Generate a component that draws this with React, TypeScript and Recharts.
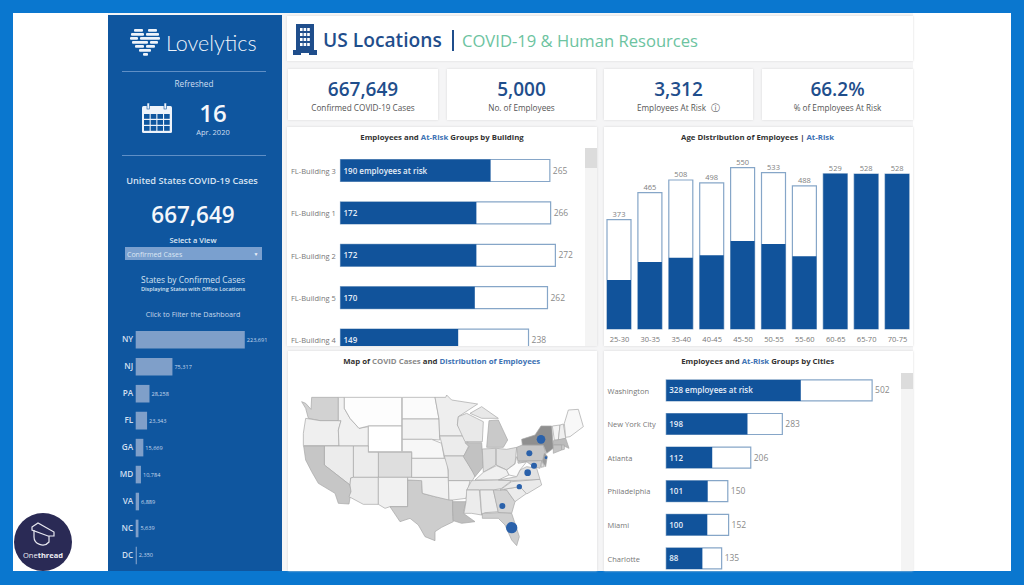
import { CSSProperties, ReactNode } from "react";
import {
  Bar,
  BarChart,
  LabelList,
  Scatter,
  ScatterChart,
  XAxis,
  YAxis,
  ZAxis,
} from "recharts";

const NAVY = "#11539b";
const HEAD = "#1f4e8c";
const OUTLINE = "#86a6c8";
const FONT = '"Open Sans", "Noto Sans", sans-serif';

// left sidebar
const stateCodes = ["NY", "NJ", "PA", "FL", "GA", "MD", "VA", "NC", "DC"];
const stateCases = [223691, 75317, 28258, 23343, 15669, 10784, 6889, 5639, 2350];

// buildings
const buildings = ["FL-Building 3", "FL-Building 1", "FL-Building 2", "FL-Building 5", "FL-Building 4"];
const buildingTotal = [265, 266, 272, 262, 238];
const buildingRisk = [190, 172, 172, 170, 149];

// age groups
const ageGroups = ["25-30", "30-35", "35-40", "40-45", "45-50", "50-55", "55-60", "60-65", "65-70", "70-75"];
const ageTotal = [373, 465, 508, 498, 550, 533, 488, 529, 528, 528];
const ageRisk = [167, 228, 243, 251, 300, 290, 248, 529, 528, 528];

// cities
const cities = ["Washington", "New York City", "Atlanta", "Philadelphia", "Miami", "Charlotte"];
const cityTotal = [502, 283, 206, 150, 152, 135];
const cityRisk = [328, 198, 112, 101, 100, 88];

// map outlines in map units (960 x 675)
const stateOutlines: Record<string, number[][]> = {
  WA: [[50,155],[62,160],[78,178],[80,142],[160,142],[160,212],[105,212],[70,205],[62,175]],
  OR: [[62,205],[105,212],[168,212],[160,240],[162,287],[55,287],[55,250]],
  ID: [[160,142],[178,142],[178,175],[195,205],[222,235],[250,230],[250,288],[162,288],[160,240],[168,212],[160,212]],
  MT: [[178,142],[350,142],[350,228],[250,228],[222,235],[195,205],[178,175]],
  WY: [[250,228],[350,228],[350,305],[250,305]],
  ND: [[352,142],[450,142],[462,207],[352,207]],
  SD: [[352,207],[462,207],[464,270],[440,268],[352,268]],
  NE: [[352,268],[440,268],[470,280],[478,325],[380,325],[380,305],[352,305]],
  CO: [[280,307],[380,307],[380,382],[280,382]],
  UT: [[205,288],[250,288],[250,307],[280,307],[280,382],[205,382]],
  NV: [[118,288],[205,288],[205,382],[197,384],[195,405],[118,345]],
  CA: [[56,288],[118,288],[118,345],[195,405],[198,425],[192,462],[160,460],[150,430],[100,400],[80,365],[62,330]],
  AZ: [[197,384],[205,382],[280,382],[280,463],[235,463],[192,440],[198,425],[195,405]],
  NM: [[280,382],[368,382],[368,470],[315,470],[300,475],[280,463]],
  TX: [[368,390],[410,390],[412,430],[450,440],[503,450],[503,500],[505,515],[470,532],[450,545],[450,572],[420,560],[400,525],[375,505],[345,515],[315,470],[368,470]],
  OK: [[368,382],[490,382],[492,450],[450,440],[412,430],[410,392],[368,390]],
  KS: [[380,325],[478,325],[488,335],[490,382],[380,382]],
  MN: [[450,142],[482,142],[485,135],[500,150],[578,162],[520,200],[517,225],[540,258],[464,258],[462,207]],
  IA: [[464,258],[540,258],[552,285],[537,318],[478,318],[470,280]],
  MO: [[478,318],[537,318],[560,360],[572,375],[562,392],[490,392],[490,360]],
  AR: [[490,392],[555,392],[543,445],[503,450],[492,450]],
  LA: [[503,455],[543,455],[535,490],[570,515],[530,520],[505,512],[503,480]],
  WI: [[520,200],[545,190],[575,205],[595,215],[592,275],[540,275],[517,225]],
  IL: [[540,278],[590,278],[595,350],[570,380],[560,360],[535,320],[552,290]],
  IN: [[592,297],[632,295],[632,345],[595,367]],
  MIU: [[555,190],[590,170],[640,205],[590,205]],
  MI: [[612,212],[640,210],[668,270],[655,292],[605,292]],
  OH: [[634,295],[665,298],[695,292],[690,340],[665,360],[634,345]],
  KY: [[570,390],[595,367],[634,347],[665,360],[672,375],[640,390]],
  TN: [[560,392],[640,390],[680,392],[650,415],[625,420],[545,420]],
  MS: [[545,420],[583,420],[590,495],[560,490],[537,490],[543,455]],
  AL: [[585,420],[625,420],[640,485],[600,488],[590,495]],
  GA: [[625,420],[665,420],[690,455],[680,490],[640,488]],
  FL: [[592,490],[640,488],[680,490],[703,560],[695,587],[680,570],[660,525],[640,505],[592,505]],
  SC: [[655,418],[705,410],[725,430],[690,455],[665,420]],
  NC: [[645,420],[680,395],[765,388],[770,405],[725,432],[705,410],[655,418]],
  VA: [[640,390],[695,380],[705,360],[725,350],[755,355],[765,388],[680,392]],
  WV: [[672,375],[665,360],[690,342],[695,320],[705,338],[725,335],[705,360],[695,380]],
  PA: [[695,292],[712,285],[775,285],[782,310],[775,332],[698,332]],
  NY: [[712,285],[710,268],[750,255],[768,228],[800,228],[805,295],[785,310],[775,285]],
  NJ: [[778,310],[787,318],[782,350],[772,335]],
  MD: [[698,335],[770,332],[765,355],[745,350],[725,335],[700,340]],
  DE: [[770,332],[778,350],[768,352]],
  VT: [[802,228],[825,225],[820,270],[808,270]],
  NH: [[825,225],[835,222],[842,265],[820,270]],
  ME: [[838,220],[850,180],[880,178],[895,230],[855,260],[842,262]],
  MA: [[805,272],[842,265],[852,295],[830,285],[805,285]],
  CT: [[805,285],[830,285],[830,300],[805,310]],
  RI: [[830,285],[838,285],[838,298],[830,300]],
};

const stateShades: Record<string, string> = {
  WA: "#d2d2d2", OR: "#efefef", ID: "#f1f1f1", MT: "#fdfdfd", WY: "#ffffff", ND: "#fbfbfb", SD: "#f2f2f2",
  NE: "#f7f7f7", CO: "#dedede", UT: "#ececec", NV: "#ececec", CA: "#c6c6c6", AZ: "#ececec", NM: "#f1f1f1",
  TX: "#cdcdcd", OK: "#f1f1f1", KS: "#f2f2f2", MN: "#eeeeee", IA: "#ececec", MO: "#e6e6e6", AR: "#f3f3f3",
  LA: "#bebebe", WI: "#e9e9e9", IL: "#c2c2c2", IN: "#dedede", MIU: "#e8e8e8", MI: "#c9c9c9", OH: "#e0e0e0",
  KY: "#f0f0f0", TN: "#e6e6e6", MS: "#ececec", AL: "#ececec", GA: "#d4d4d4", FL: "#cfcfcf", SC: "#ececec",
  NC: "#eaeaea", VA: "#e2e2e2", WV: "#fbfbfb", PA: "#c6c6c6", NY: "#8f8f8f", NJ: "#9c9c9c", MD: "#d0d0d0",
  DE: "#dcdcdc", VT: "#f4f4f4", NH: "#efefef", ME: "#f8f8f8", MA: "#bcbcbc", CT: "#c4c4c4", RI: "#cccccc",
};

// employee bubbles
const bubbleX = [768, 733, 747, 728, 703, 652, 680, 783];
const bubbleY = [268, 310, 347, 368, 410, 468, 533, 323];
const bubbleSize = [169, 81, 81, 100, 64, 81, 289, 16];

const stateRows = stateCodes.map((name, i) => ({ name, cases: stateCases[i] }));
const buildingRows = buildings.map((name, i) => ({
  name,
  total: buildingTotal[i],
  risk: buildingRisk[i],
  riskText: i === 0 ? `${buildingRisk[i]} employees at risk` : String(buildingRisk[i]),
}));
const ageRows = ageGroups.map((name, i) => ({ name, total: ageTotal[i], risk: ageRisk[i] }));
const cityRows = cities.map((name, i) => ({
  name,
  total: cityTotal[i],
  risk: cityRisk[i],
  riskText: i === 0 ? `${cityRisk[i]} employees at risk` : String(cityRisk[i]),
}));
const bubbles = bubbleX.map((x, i) => ({ x, y: bubbleY[i], z: bubbleSize[i] }));

function Txt({ x, y, size, color, weight, left, children, style }: {
  x: number; y: number; size: number; color: string; weight?: number; left?: boolean; children: ReactNode; style?: CSSProperties;
}) {
  return (
    <div
      style={{
        position: "absolute",
        left: x,
        top: y,
        fontSize: size,
        color,
        fontWeight: weight ?? 400,
        whiteSpace: "nowrap",
        lineHeight: 1,
        transform: left ? "translateY(-50%)" : "translate(-50%,-50%)",
        ...style,
      }}
    >
      {children}
    </div>
  );
}

function Panel({ x, y, w, h, children }: { x: number; y: number; w: number; h: number; children?: ReactNode }) {
  return (
    <div
      style={{
        position: "absolute",
        left: x,
        top: y,
        width: w,
        height: h,
        background: "#fff",
        boxShadow: "0 0 2px #d6d6d6",
        overflow: "hidden",
      }}
    >
      {children}
    </div>
  );
}

function Kpi({ x, w, value, label, info }: { x: number; w: number; value: string; label: string; info?: boolean }) {
  const cx = x + w / 2;
  return (
    <>
      <Panel x={x} y={69} w={w} h={51} />
      <Txt x={cx} y={89} size={19} color={HEAD} weight={600}>{value}</Txt>
      <Txt x={cx} y={108} size={8.2} color="#555">
        {label}
        {info ? <span style={{ marginLeft: 5, fontSize: 9 }}>ⓘ</span> : null}
      </Txt>
    </>
  );
}

function HBars({ rows, axisW, labelX, max, plotW, top, band, barH }: {
  rows: any[]; axisW: number; labelX: number; max: number; plotW: number; top: number; band: number; barH: number;
}) {
  return (
    <BarChart
      width={axisW + plotW}
      height={top + band * rows.length}
      data={rows}
      layout="vertical"
      barSize={barH}
      barGap={-barH}
      margin={{ top, right: 0, bottom: 0, left: 0 }}
    >
      <XAxis type="number" hide domain={[0, max]} />
      <YAxis
        type="category"
        dataKey="name"
        width={axisW}
        interval={0}
        axisLine={false}
        tickLine={false}
        tick={(p: any) => (
          <text x={labelX} y={p.y} dy={3} fontSize={7.5} fill="#777">
            {p.payload.value}
          </text>
        )}
      />
      <Bar dataKey="total" fill="#fff" stroke={OUTLINE} strokeWidth={1.2} isAnimationActive={false}>
        <LabelList dataKey="total" position="right" offset={3} fontSize={8.5} fill="#8a8a8a" />
      </Bar>
      <Bar dataKey="risk" fill={NAVY} isAnimationActive={false}>
        <LabelList
          dataKey="riskText"
          content={(p: any) => (
            <text x={p.x + 3} y={p.y + p.height / 2} dy={3} fontSize={8} fontWeight={600} fill="#e6eef8">
              {p.value}
            </text>
          )}
        />
      </Bar>
    </BarChart>
  );
}

function Scroll({ x, y, h, thumb }: { x: number; y: number; h: number; thumb: number }) {
  return (
    <>
      <div style={{ position: "absolute", left: x, top: y, width: 12, height: h, background: "#f4f4f4" }} />
      <div style={{ position: "absolute", left: x, top: y, width: 12, height: thumb, background: "#dcdcdc" }} />
    </>
  );
}

function UsMap() {
  return (
    <ScatterChart width={320} height={225} margin={{ top: 0, right: 0, bottom: 0, left: 0 }}>
      <XAxis type="number" dataKey="x" hide domain={[0, 960]} />
      <YAxis type="number" dataKey="y" hide reversed domain={[0, 675]} />
      <ZAxis type="number" dataKey="z" domain={[0, 300]} range={[0, 105]} />
      {Object.keys(stateOutlines).map((code) => (
        <Scatter
          key={code}
          data={stateOutlines[code].map(([x, y]) => ({ x, y }))}
          isAnimationActive={false}
          shape={() => <g />}
          line={(p: any) => (
            <polygon
              points={p.points.map((q: any) => `${q.x},${q.y}`).join(" ")}
              fill={stateShades[code]}
              stroke="#a8a8a8"
              strokeWidth={0.7}
            />
          )}
        />
      ))}
      <Scatter data={bubbles} fill="#2a61aa" isAnimationActive={false} />
    </ScatterChart>
  );
}

// two lobes on top, narrowing to the tip
const logoRows = [
  [[134, 9], [148, 9]],
  [[131, 13], [146, 13]],
  [[130, 8], [140, 20]],
  [[132, 16], [150, 8]],
  [[135, 9], [146, 9]],
  [[139, 12]],
  [[143, 5]],
];

function Logo() {
  return (
    <svg style={{ position: "absolute", left: 0, top: 0 }} width={180} height={70}>
      {logoRows.map((row, i) =>
        row.map(([x, w], j) => (
          <rect key={`${i}-${j}`} x={x - 108} y={29 + i * 4} width={w} height={2.8} rx={1} fill="#eef3fa" />
        )),
      )}
    </svg>
  );
}

export default function App() {
  return (
    <div
      style={{
        position: "absolute",
        left: 0,
        top: 0,
        width: 1024,
        height: 585,
        background: "#0a77cf",
        overflow: "hidden",
        fontFamily: FONT,
      }}
    >
      <div style={{ position: "absolute", left: 13, top: 13, width: 998, height: 558, background: "#fff" }} />
      <div style={{ position: "absolute", left: 108, top: 13, width: 805, height: 558, background: "#f5f5f6" }} />

      {/* sidebar */}
      <div style={{ position: "absolute", left: 108, top: 15, width: 174, height: 556, background: "#0f569f" }} />
      <div style={{ position: "absolute", left: 108, top: 0 }}>
        <Logo />
      </div>
      <Txt x={166} y={44} size={21.5} color="#eef3fa" left style={{ fontFamily: "Lato", fontWeight: 300 }}>Lovelytics</Txt>
      <div style={{ position: "absolute", left: 122, top: 71, width: 144, height: 1, background: "#5f8fc6" }} />
      <Txt x={194} y={84} size={8.2} color="#cfdff0" weight={500}>Refreshed</Txt>
      <svg style={{ position: "absolute", left: 142, top: 103 }} width={30} height={30}>
        <rect x={0} y={3} width={30} height={27} rx={1.5} fill="#eef3fa" />
        <rect x={5} y={0} width={2.5} height={6} fill="#eef3fa" stroke="#0f569f" strokeWidth={0.6} />
        <rect x={22} y={0} width={2.5} height={6} fill="#eef3fa" stroke="#0f569f" strokeWidth={0.6} />
        {[0, 1, 2].map((r) =>
          [0, 1, 2, 3].map((c) => (
            <rect key={`${r}${c}`} x={2 + c * 6.7} y={11 + r * 6} width={5.6} height={4.8} fill="#0f569f" />
          )),
        )}
      </svg>
      <Txt x={213} y={113} size={24} color="#f4f7fb" weight={600}>16</Txt>
      <Txt x={213} y={133} size={7.5} color="#cfdff0">Apr. 2020</Txt>
      <div style={{ position: "absolute", left: 122, top: 155, width: 144, height: 1, background: "#5f8fc6" }} />
      <Txt x={192} y={181} size={9.2} color="#d6e3f2" weight={600}>United States COVID-19 Cases</Txt>
      <Txt x={193} y={215} size={22.5} color="#f4f7fb" weight={600}>667,649</Txt>
      <Txt x={193} y={241} size={7.5} color="#dfe9f5" weight={600}>Select a View</Txt>
      <div style={{ position: "absolute", left: 125, top: 247, width: 137, height: 13, background: "#7aa0cf" }} />
      <Txt x={127} y={253.5} size={7} color="#dce7f4" left>Confirmed Cases</Txt>
      <Txt x={256} y={254} size={5} color="#eef3fa">▼</Txt>
      <Txt x={193} y={280} size={8.4} color="#d6e3f2" weight={500}>States by Confirmed Cases</Txt>
      <Txt x={193} y={290} size={5.6} color="#d6e3f2" weight={600}>Displaying States with Office Locations</Txt>
      <Txt x={193} y={315} size={7.2} color="#c6d8ec" weight={500}>Click to Filter the Dashboard</Txt>
      <div style={{ position: "absolute", left: 108, top: 325.5 }}>
        <BarChart
          width={174}
          height={242.6}
          data={stateRows}
          layout="vertical"
          barSize={17.6}
          margin={{ top: 0, right: 0, bottom: 0, left: 0 }}
        >
          <XAxis type="number" hide domain={[0, 300000]} />
          <YAxis
            type="category"
            dataKey="name"
            width={27.7}
            interval={0}
            axisLine={false}
            tickLine={false}
            tickSize={0}
            tickMargin={2.5}
            tick={{ fontSize: 8.2, fontWeight: 600, fill: "#cfdff0" }}
          />
          <Bar dataKey="cases" fill="#7f9fc9" isAnimationActive={false}>
            <LabelList
              dataKey="cases"
              position="right"
              offset={2}
              fontSize={5.6}
              fill="#c6d8ec"
              formatter={(v: any) => Number(v).toLocaleString("en-US")}
            />
          </Bar>
        </BarChart>
      </div>

      {/* header */}
      <Panel x={287} y={16} w={626} h={45} />
      <svg style={{ position: "absolute", left: 293, top: 24 }} width={24} height={31}>
        <rect x={3} y={0} width={18} height={27} fill={HEAD} />
        <rect x={0} y={26} width={24} height={3} fill={HEAD} />
        <rect x={0} y={26} width={8} height={5} fill={HEAD} />
        <rect x={16} y={26} width={8} height={5} fill={HEAD} />
        {[0, 1, 2, 3].map((r) =>
          [0, 1, 2].map((c) => (
            <rect key={`${r}${c}`} x={7 + c * 3.6} y={4 + r * 5} width={2.6} height={3} fill="#fff" />
          )),
        )}
      </svg>
      <Txt x={323} y={40} size={19.2} color={HEAD} weight={600} left>US Locations</Txt>
      <div style={{ position: "absolute", left: 452, top: 30, width: 1.5, height: 21, background: HEAD }} />
      <Txt x={462} y={41} size={16.6} color="#6cc3a0" left>COVID-19 &amp; Human Resources</Txt>

      {/* kpis */}
      <Kpi x={288} w={150} value="667,649" label="Confirmed COVID-19 Cases" />
      <Kpi x={447} w={149} value="5,000" label="No. of Employees" />
      <Kpi x={604} w={149} value="3,312" label="Employees At Risk" info />
      <Kpi x={762} w={151} value="66.2%" label="% of Employees At Risk" />

      {/* buildings */}
      <Panel x={287} y={127} w={310} h={219}>
        <HBars rows={buildingRows} axisW={53.5} labelX={4} max={300} plotW={237} top={22.5} band={42.4} barH={22} />
      </Panel>
      <Scroll x={585} y={148} h={198} thumb={20} />
      <Txt x={442} y={138} size={7.8} color="#333" weight={700}>
        Employees and <span style={{ color: "#3d72b4" }}>At-Risk</span> Groups by Building
      </Txt>

      {/* ages */}
      <Panel x={604} y={127} w={309} h={219}>
        <BarChart
          width={310}
          height={219}
          data={ageRows}
          barSize={24}
          barGap={-24}
          margin={{ top: 26, right: 1, bottom: 0, left: 0 }}
        >
          <XAxis
            dataKey="name"
            height={17}
            interval={0}
            tickLine={false}
            axisLine={false}
            tick={{ fontSize: 7.5, fill: "#777" }}
            tickMargin={2}
          />
          <YAxis hide domain={[0, 600]} width={0} />
          <Bar dataKey="total" fill="#fff" stroke={OUTLINE} strokeWidth={1.2} isAnimationActive={false}>
            <LabelList dataKey="total" position="top" offset={3} fontSize={7.5} fill="#808080" />
          </Bar>
          <Bar dataKey="risk" fill={NAVY} isAnimationActive={false} />
        </BarChart>
      </Panel>
      <Txt x={757.5} y={138} size={7.8} color="#333" weight={700}>
        Age Distribution of Employees | <span style={{ color: "#3d72b4" }}>At-Risk</span>
      </Txt>

      {/* map */}
      <Panel x={288} y={351} w={309} h={220} />
      <div style={{ position: "absolute", left: 285, top: 350 }}>
        <UsMap />
      </div>
      <Txt x={441.7} y={362} size={7.8} color="#333" weight={700}>
        Map of <span style={{ color: "#8a8a8a" }}>COVID Cases</span> and{" "}
        <span style={{ color: "#3d72b4" }}>Distribution of Employees</span>
      </Txt>

      {/* cities */}
      <Panel x={604} y={351} w={309} h={220}>
        <HBars rows={cityRows} axisW={62.3} labelX={3.5} max={600} plotW={246} top={22.9} band={33.6} barH={21} />
      </Panel>
      <Scroll x={901} y={373} h={198} thumb={16} />
      <Txt x={757.7} y={362} size={7.8} color="#333" weight={700}>
        Employees and <span style={{ color: "#3d72b4" }}>At-Risk</span> Groups by Cities
      </Txt>

      {/* badge */}
      <div
        style={{
          position: "absolute",
          left: 14,
          top: 513,
          width: 58,
          height: 58,
          borderRadius: "50%",
          background: "#2a2a55",
        }}
      />
      <svg style={{ position: "absolute", left: 30, top: 522 }} width={26} height={26} fill="none" stroke="#e8e8f0" strokeWidth={1.2}>
        <path d="M2 5 L8 1 L24 10 L24 14 L18 14 L2 8 Z" />
        <path d="M4 8 L4 15 C4 22 14 26 19 20 L19 14" />
      </svg>
      <Txt x={43} y={556} size={7.5} color="#f0f0f5">
        One<b>thread</b>
      </Txt>
    </div>
  );
}
